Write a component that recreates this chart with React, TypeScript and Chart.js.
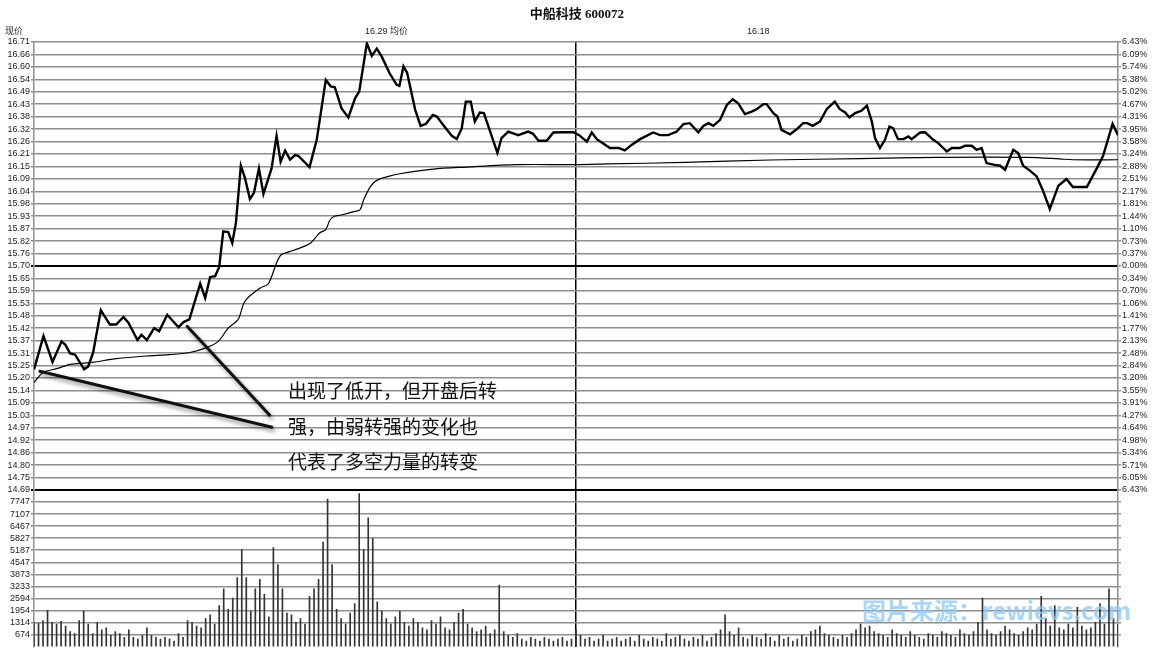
import React, { useEffect, useRef } from "react";
import { Chart, registerables } from "chart.js";

Chart.register(...registerables);

// ---------- data ----------
const priceTickLabels = ["14.69","14.75","14.80","14.86","14.92","14.97","15.03","15.09","15.14","15.20","15.25","15.31","15.37","15.42","15.48","15.53","15.59","15.65","15.70","15.76","15.82","15.87","15.93","15.98","16.04","16.09","16.15","16.21","16.26","16.32","16.38","16.43","16.49","16.54","16.60","16.66","16.71"];
const pctTickLabels = ["6.43%","6.05%","5.71%","5.34%","4.98%","4.64%","4.27%","3.91%","3.55%","3.20%","2.84%","2.48%","2.13%","1.77%","1.41%","1.06%","0.70%","0.34%","0.00%","0.37%","0.73%","1.10%","1.44%","1.81%","2.17%","2.51%","2.88%","3.24%","3.58%","3.95%","4.31%","4.67%","5.02%","5.38%","5.74%","6.09%","6.43%"];
const volTickLabels = ["674","1314","1954","2594","3233","3873","4547","5187","5827","6467","7107","7747"];

const priceMin = 14.69;
const priceMax = 16.71;
const volTop = 7747;

const priceMinutes = [0,2.1,4.1,6.1,6.9,8,9.1,11.1,12,13.1,14.8,16.8,18.2,19.8,20.9,22.9,23.8,25,26.6,27.7,29.5,32,33.1,34.4,36.8,37.9,39,40.1,41,41.9,43,43.9,44.7,45.8,46.7,47.8,48.7,49.8,50.8,52.6,53.7,54.6,55.6,56.7,57.8,58.5,61,62.6,64.6,65.7,66.6,68.1,69.6,71.1,72,73.7,74.8,75.9,77,78.7,80.3,80.9,81.8,82.6,84.4,85.6,86.8,88.3,89.2,90.6,92.5,93.6,94.7,95.6,96.7,97.6,98.7,99.6,101,102.6,103.5,105,107.2,109.4,110.5,111.7,113.5,115,117.2,119.4,120.7,122.4,123.5,124.6,125.7,127.5,129.4,130.8,132.3,134.2,137.1,138.6,140.4,142.3,143.8,145.2,147.1,148.2,149.3,150.4,151.9,153.4,154.7,155.9,157.4,158.9,160,161.5,162.2,163.7,164.6,165.5,167.4,168.9,170.3,171.2,172.4,174,175.5,177.3,178.4,179.6,180.5,181.8,183.2,184.4,185.5,186.2,187.3,188.4,189.4,190.2,191.3,192.5,193.6,194.3,196.2,197.3,199.1,200.2,202.1,203.2,205,206.1,207.6,208.7,209.8,210.9,212.4,213.9,215,216.8,217.9,219,220.5,222,223.3,224.9,226.8,228.6,230,233.1,235.3,236.7,238.8,240];
const prices = [15.234,15.384,15.267,15.36,15.346,15.306,15.30,15.234,15.247,15.31,15.50,15.436,15.436,15.47,15.444,15.366,15.39,15.366,15.42,15.406,15.48,15.424,15.447,15.459,15.62,15.556,15.65,15.654,15.696,15.856,15.853,15.804,15.894,16.152,16.097,16.002,16.03,16.14,16.025,16.14,16.287,16.17,16.22,16.18,16.20,16.197,16.146,16.269,16.539,16.51,16.506,16.41,16.37,16.457,16.486,16.704,16.647,16.68,16.644,16.57,16.517,16.512,16.60,16.572,16.404,16.332,16.341,16.381,16.374,16.336,16.287,16.273,16.32,16.441,16.441,16.351,16.392,16.389,16.306,16.21,16.277,16.306,16.29,16.306,16.296,16.265,16.265,16.302,16.303,16.303,16.29,16.261,16.302,16.272,16.257,16.232,16.232,16.221,16.246,16.272,16.302,16.29,16.29,16.306,16.34,16.344,16.302,16.332,16.344,16.332,16.359,16.426,16.452,16.434,16.385,16.396,16.407,16.43,16.43,16.389,16.374,16.314,16.294,16.317,16.344,16.344,16.332,16.351,16.407,16.441,16.407,16.392,16.37,16.389,16.40,16.423,16.351,16.277,16.232,16.269,16.329,16.322,16.272,16.272,16.284,16.272,16.302,16.303,16.269,16.254,16.216,16.232,16.232,16.242,16.242,16.224,16.232,16.164,16.157,16.152,16.134,16.224,16.209,16.152,16.13,16.104,16.044,15.957,16.062,16.092,16.056,16.056,16.14,16.197,16.341,16.29];

const avgMinutes = [0,2,5,8,12.4,18.3,25,30,34.5,38.2,40.8,43,45.2,46.7,50,51.9,54.5,57.4,61,63.3,64.6,65.5,66.5,68,71,72.2,73,74.5,75.9,78.5,81,88.4,95.8,106.9,120,127,144,163,183,200,220,227,230,240];
const avgPrices = [15.174,15.22,15.237,15.256,15.264,15.282,15.294,15.30,15.31,15.332,15.36,15.42,15.459,15.541,15.60,15.62,15.746,15.77,15.80,15.85,15.864,15.906,15.924,15.93,15.946,15.954,15.999,16.059,16.086,16.104,16.116,16.137,16.146,16.157,16.157,16.16,16.167,16.178,16.184,16.19,16.19,16.183,16.179,16.179];

const volumes = [1300,1250,1400,1950,1300,1200,1350,1100,800,700,1400,1900,1200,700,1300,900,1000,600,800,700,500,900,500,400,600,1000,600,500,400,500,400,300,700,500,1400,1300,1100,1000,1500,1700,1200,2200,3100,2000,2600,3700,5200,3700,1900,3100,3600,2800,1600,5300,4400,3100,1800,1700,1300,1500,1200,2700,3100,3600,5600,7900,4400,2000,1500,1200,1800,2300,8200,5200,6900,5800,2400,1900,1500,1200,1600,1900,1300,1100,1500,1300,1000,900,1400,1200,1600,1000,900,1300,1800,2000,1200,1000,800,900,1100,700,900,3300,800,600,500,700,400,300,500,400,300,500,400,300,400,500,300,400,900,600,400,500,300,400,600,300,400,500,300,400,500,300,600,400,300,500,400,300,700,400,500,600,400,300,500,400,600,300,500,700,900,1700,800,600,1000,500,400,600,500,400,700,500,300,600,400,500,300,400,600,500,800,900,1100,700,600,500,400,600,500,700,900,1200,1000,1100,800,700,600,500,900,700,600,500,800,600,500,400,700,600,500,800,700,600,500,900,700,600,800,1300,2600,900,700,600,800,1100,900,700,600,800,1000,900,1200,2700,1500,1100,2200,1000,900,1200,1000,2100,1100,900,1000,1300,2300,1200,3100,1500,1200];

const calloutFrom = [[1.3, 15.225], [33.9, 15.428]];
const calloutTo = [[52.7, 14.973], [52.2, 15.027]];
const calloutLines = ["出现了低开，但开盘后转", "强，由弱转强的变化也", "代表了多空力量的转变"];

const titleText = "中船科技 600072";
const headerLeft = "现价";
const headerMid = "16.29 均价";
const headerRight = "16.18";
const watermark = "图片来源：rewievs.com";

// ---------- chart ----------
const GRID = "#8e8e8e";
const LABEL_FONT = { family: "'Liberation Sans', Arial, sans-serif", size: 9 };

const calloutPlugin = {
  id: "callouts",
  afterDatasetsDraw(chart: any) {
    const { ctx, scales } = chart;
    const xs = scales.x;
    const ys = scales.y;
    ctx.save();
    ctx.strokeStyle = "#111";
    ctx.lineWidth = 3;
    ctx.lineCap = "round";
    ctx.shadowColor = "rgba(0,0,0,0.45)";
    ctx.shadowBlur = 4;
    ctx.shadowOffsetX = 2;
    ctx.shadowOffsetY = 3;
    calloutFrom.forEach((f, i) => {
      const t = calloutTo[i];
      ctx.beginPath();
      ctx.moveTo(xs.getPixelForValue(f[0]), ys.getPixelForValue(f[1]));
      ctx.lineTo(xs.getPixelForValue(t[0]), ys.getPixelForValue(t[1]));
      ctx.stroke();
    });
    ctx.restore();
  },
};

const priceTicks = () =>
  priceTickLabels.map((_, i) => ({ value: priceMin + (i * (priceMax - priceMin)) / (priceTickLabels.length - 1) }));

export default function App() {
  const canvasRef = useRef<HTMLCanvasElement | null>(null);

  useEffect(() => {
    const canvas = canvasRef.current;
    if (!canvas) return;
    const volStep = volTop / volTickLabels.length;
    const chart = new Chart(canvas, {
      type: "line",
      data: {
        datasets: [
          {
            type: "line",
            label: "price",
            data: priceMinutes.map((m, i) => ({ x: m, y: prices[i] })),
            borderColor: "#000",
            borderWidth: 2.4,
            pointRadius: 0,
            tension: 0,
            xAxisID: "x",
            yAxisID: "y",
          },
          {
            type: "line",
            label: "avg",
            data: avgMinutes.map((m, i) => ({ x: m, y: avgPrices[i] })),
            borderColor: "#000",
            borderWidth: 1.2,
            pointRadius: 0,
            tension: 0.3,
            xAxisID: "x",
            yAxisID: "y",
          },
          {
            type: "bar",
            label: "vol",
            data: volumes.map((v, i) => ({ x: i, y: v })),
            backgroundColor: "#333",
            barThickness: 1,
            xAxisID: "x",
            yAxisID: "yv",
          },
        ] as any,
      },
      options: {
        responsive: false,
        animation: false,
        layout: { padding: { top: 42, bottom: 5, left: 0, right: 0 } },
        plugins: { legend: { display: false }, tooltip: { enabled: false }, title: { display: false } },
        scales: {
          x: {
            type: "linear",
            min: 0,
            max: 240,
            offset: false,
            position: "bottom",
            ticks: { display: false },
            grid: { color: "#000", lineWidth: 1.5, drawTicks: false, offset: false },
            border: { display: false },
            afterBuildTicks: (s: any) => {
              s.ticks = [{ value: 120 }];
            },
            afterFit: (s: any) => {
              s.height = 0;
            },
          },
          y: {
            type: "linear",
            position: "left",
            stack: "left",
            stackWeight: 449,
            weight: 2,
            min: priceMin,
            max: priceMax,
            afterBuildTicks: (s: any) => {
              s.ticks = priceTicks();
            },
            ticks: {
              autoSkip: false,
              padding: 1,
              color: "#222",
              font: LABEL_FONT,
              callback: (_v: any, i: number) => priceTickLabels[i],
            },
            grid: {
              color: (c: any) => (c.index === 0 || c.index === 18 ? "#000" : GRID),
              lineWidth: (c: any) => (c.index === 0 || c.index === 18 ? 2 : 1.5),
              tickLength: 3,
            },
            border: { color: GRID, width: 1.5 },
            afterFit: (s: any) => {
              s.width = 34;
            },
          },
          yv: {
            type: "linear",
            position: "left",
            stack: "left",
            stackWeight: 157,
            weight: 1,
            min: 0,
            max: volStep * (volTickLabels.length + 1),
            afterBuildTicks: (s: any) => {
              s.ticks = volTickLabels.map((_, i) => ({ value: volStep * (i + 1) }));
            },
            ticks: {
              autoSkip: false,
              padding: 1,
              color: "#222",
              font: LABEL_FONT,
              callback: (_v: any, i: number) => volTickLabels[i],
            },
            grid: { color: GRID, lineWidth: 1.5, tickLength: 3 },
            border: { color: GRID, width: 1.5 },
            afterFit: (s: any) => {
              s.width = 34;
            },
          },
          y2: {
            type: "linear",
            position: "right",
            stack: "right",
            stackWeight: 449,
            weight: 1,
            min: priceMin,
            max: priceMax,
            afterBuildTicks: (s: any) => {
              s.ticks = priceTicks();
            },
            ticks: {
              autoSkip: false,
              padding: 1,
              color: "#222",
              font: LABEL_FONT,
              callback: (_v: any, i: number) => pctTickLabels[i],
            },
            grid: { drawOnChartArea: false, color: GRID, lineWidth: 1.5, tickLength: 3 },
            border: { color: GRID, width: 1.5 },
            afterFit: (s: any) => {
              s.width = 36;
            },
          },
          yv2: {
            type: "linear",
            position: "right",
            stack: "right",
            stackWeight: 157,
            weight: 2,
            min: 0,
            max: volStep * (volTickLabels.length + 1),
            afterBuildTicks: (s: any) => {
              s.ticks = volTickLabels.map((_, i) => ({ value: volStep * (i + 1) }));
            },
            ticks: { display: false },
            grid: { drawOnChartArea: false, color: GRID, lineWidth: 1.5, tickLength: 3 },
            border: { color: GRID, width: 1.5 },
            afterFit: (s: any) => {
              s.width = 36;
            },
          },
        } as any,
      },
      plugins: [calloutPlugin],
    });
    return () => chart.destroy();
  }, []);

  const small: React.CSSProperties = {
    position: "absolute",
    fontFamily: "'Liberation Sans', Arial, 'Noto Sans CJK SC', sans-serif",
    fontSize: 9,
    color: "#222",
    lineHeight: "10px",
    whiteSpace: "nowrap",
  };
  const callout: React.CSSProperties = {
    position: "absolute",
    left: 288,
    fontFamily: "'Noto Sans CJK SC', sans-serif",
    fontSize: 19,
    lineHeight: "22px",
    color: "#111",
    whiteSpace: "nowrap",
  };

  return (
    <div
      style={{
        position: "fixed",
        left: 0,
        top: 0,
        width: 1154,
        height: 653,
        background: "#fff",
        overflow: "hidden",
      }}
    >
      <canvas ref={canvasRef} width={1154} height={653} style={{ position: "absolute", left: 0, top: 0 }} />
      <div
        style={{
          position: "absolute",
          left: 0,
          width: 1154,
          top: 6,
          textAlign: "center",
          fontFamily: "'Liberation Serif', 'Noto Sans CJK SC', serif",
          fontWeight: "bold",
          fontSize: 13,
          lineHeight: "16px",
          color: "#111",
        }}
      >
        {titleText}
      </div>
      <div style={{ ...small, left: 5, top: 26 }}>{headerLeft}</div>
      <div style={{ ...small, left: 365, top: 26 }}>{headerMid}</div>
      <div style={{ ...small, left: 747, top: 26 }}>{headerRight}</div>
      {calloutLines.map((t, i) => (
        <div key={i} style={{ ...callout, top: 379 + i * 35.5 }}>
          {t}
        </div>
      ))}
      <div
        style={{
          position: "absolute",
          left: 862,
          top: 596,
          fontFamily: "'Noto Sans CJK SC', 'Liberation Sans', sans-serif",
          fontWeight: "bold",
          fontSize: 24,
          lineHeight: "28px",
          color: "rgba(140,200,245,0.75)",
          whiteSpace: "nowrap",
        }}
      >
        {watermark}
      </div>
    </div>
  );
}
